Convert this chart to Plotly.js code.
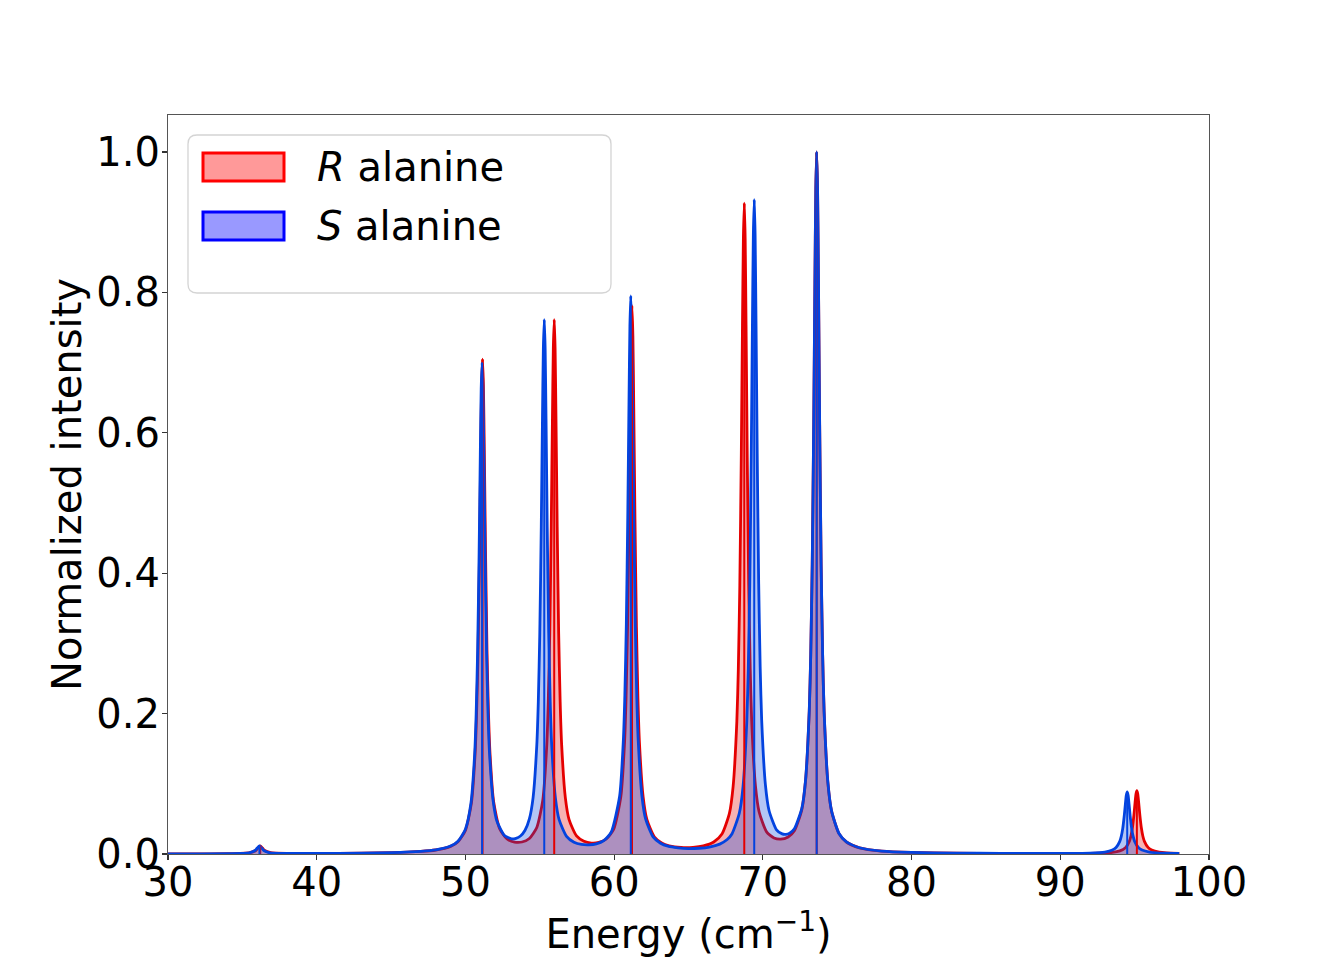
<!DOCTYPE html>
<html>
<head>
<meta charset="utf-8">
<script src="https://cdn.plot.ly/plotly-3.0.1.min.js"></script>
<style>html,body{margin:0;padding:0;background:#fff;}#chart{width:1344px;height:960px;}</style>
</head>
<body>
<div id="chart"></div>
<script>
// ---- Data ----
const energyR = [30,34,35.5,35.9,36.05,36.2,36.35,36.5,36.9,38,40,43,45,47,48,49,49.5,50,50.4,50.65,50.75,50.85,50.95,51.03,51.09,51.15,51.21,51.27,51.35,51.45,51.55,51.65,51.9,52.3,52.8,53.3,53.8,54.3,54.8,55.2,55.47,55.57,55.67,55.77,55.85,55.91,55.97,56.03,56.09,56.17,56.27,56.37,56.47,56.72,56.97,57.47,57.97,58.47,58.97,59.47,59.97,60.45,60.7,60.8,60.9,61.0,61.08,61.14,61.2,61.26,61.32,61.4,61.5,61.6,61.7,61.95,62.2,62.7,63.2,63.7,64.5,65.3,66.0,66.7,67.25,67.75,68.0,68.25,68.35,68.45,68.55,68.63,68.69,68.75,68.81,68.87,68.95,69.05,69.15,69.25,69.5,69.75,70.25,70.75,71.2,71.7,72.12,72.62,72.87,73.12,73.22,73.32,73.42,73.5,73.56,73.62,73.68,73.74,73.82,73.92,74.02,74.12,74.37,74.62,75.12,75.62,76.5,78,80,83,86,89,91,92.5,93.5,94.0,94.4,94.65,94.75,94.85,94.95,95.03,95.09,95.15,95.21,95.27,95.35,95.45,95.55,95.65,95.9,96.15,96.65,97.15,98];
const intensityR = [0.0003,0.0005,0.002,0.005,0.0086,0.0115,0.0086,0.005,0.002,0.0008,0.0008,0.0013,0.0019,0.0036,0.0057,0.0109,0.0176,0.0337,0.0724,0.1428,0.1997,0.290,0.431,0.5735,0.667,0.705,0.668,0.574,0.432,0.291,0.201,0.144,0.074,0.0361,0.0214,0.017,0.0171,0.0221,0.0378,0.0764,0.1555,0.217,0.314,0.466,0.619,0.720,0.761,0.720,0.619,0.466,0.314,0.217,0.1555,0.080,0.049,0.0257,0.0181,0.0156,0.0165,0.0214,0.0355,0.082,0.159,0.222,0.322,0.478,0.636,0.739,0.781,0.738,0.635,0.477,0.322,0.222,0.159,0.0813,0.0492,0.0245,0.0156,0.0117,0.0093,0.0094,0.0115,0.0171,0.0284,0.0578,0.0959,0.1886,0.263,0.382,0.567,0.754,0.876,0.927,0.877,0.754,0.567,0.383,0.264,0.189,0.0973,0.0598,0.0316,0.0228,0.0211,0.0243,0.033,0.0633,0.104,0.2034,0.284,0.413,0.612,0.814,0.9465,1.0,0.9456,0.813,0.611,0.411,0.283,0.202,0.102,0.061,0.029,0.0171,0.0088,0.0041,0.0022,0.0013,0.0008,0.0007,0.0008,0.0012,0.0024,0.0045,0.0094,0.0184,0.0257,0.0373,0.0553,0.0735,0.0855,0.0904,0.0855,0.0735,0.0553,0.0373,0.0257,0.0184,0.0094,0.0056,0.0027,0.0017,0.001];

const energyS = [30,34,35.45,35.85,36.0,36.15,36.3,36.45,36.85,38,40,43,45,47,48,49,49.5,50,50.37,50.62,50.72,50.82,50.92,51.0,51.06,51.12,51.18,51.24,51.32,51.42,51.52,51.62,51.87,52.12,52.62,53.1,53.4,53.7,54.0,54.3,54.55,54.8,54.9,55.0,55.1,55.18,55.24,55.3,55.36,55.42,55.5,55.6,55.7,55.8,56.05,56.3,56.8,57.3,57.8,58.3,58.8,59.3,59.8,60.37,60.62,60.72,60.82,60.92,61.0,61.06,61.12,61.18,61.24,61.32,61.42,61.52,61.62,61.87,62.12,62.62,63.12,63.62,64.3,65.0,65.7,66.4,67.1,67.6,67.92,68.42,68.67,68.92,69.02,69.12,69.22,69.3,69.36,69.42,69.48,69.54,69.62,69.72,69.82,69.92,70.17,70.42,70.92,71.3,71.55,71.8,72.12,72.62,72.87,73.12,73.22,73.32,73.42,73.5,73.56,73.62,73.68,73.74,73.82,73.92,74.02,74.12,74.37,74.62,75.12,75.62,76.5,78,80,83,86,89,90.5,92,93,93.5,93.75,94.0,94.1,94.2,94.3,94.38,94.44,94.5,94.56,94.62,94.7,94.8,94.9,95.0,95.25,95.5,96.0,96.5,97,98];
const intensityS = [0.0003,0.0005,0.0017,0.005,0.0086,0.0115,0.0086,0.005,0.0017,0.0008,0.0008,0.0013,0.002,0.0037,0.0058,0.0113,0.0182,0.0354,0.0722,0.142,0.1986,0.2885,0.428,0.5694,0.662,0.700,0.663,0.570,0.429,0.2895,0.1998,0.1435,0.0747,0.0466,0.0264,0.0216,0.0223,0.0256,0.0334,0.050,0.0804,0.1556,0.2166,0.3142,0.4655,0.619,0.7196,0.761,0.720,0.620,0.466,0.315,0.217,0.156,0.080,0.0489,0.0252,0.0168,0.0136,0.013,0.0144,0.019,0.031,0.0826,0.162,0.226,0.328,0.4864,0.647,0.752,0.795,0.752,0.647,0.486,0.328,0.2255,0.1614,0.0822,0.0496,0.0244,0.0154,0.0111,0.0087,0.0077,0.0082,0.0099,0.0141,0.0207,0.0285,0.0584,0.0968,0.1897,0.2648,0.3844,0.570,0.758,0.881,0.932,0.881,0.758,0.570,0.385,0.266,0.191,0.0989,0.0616,0.0345,0.0286,0.028,0.0296,0.0359,0.0651,0.1054,0.2045,0.285,0.4133,0.6126,0.8148,0.947,1.0,0.946,0.814,0.6115,0.412,0.2834,0.2026,0.1027,0.0614,0.0293,0.0173,0.0089,0.0042,0.0022,0.0013,0.0009,0.0007,0.0008,0.0013,0.0028,0.0056,0.0092,0.018,0.0251,0.0365,0.0541,0.0719,0.0836,0.0884,0.0836,0.0719,0.0541,0.0365,0.0251,0.018,0.0092,0.0056,0.0028,0.0017,0.0012,0.0008];

const stickEnergyR = [36.2, 51.15, 55.97, 61.2, 68.75, 73.62, 95.15];
const stickHeightR = [0.0115, 0.705, 0.761, 0.781, 0.927, 1.0, 0.0904];
const stickEnergyS = [36.15, 51.12, 55.3, 61.12, 69.42, 73.62, 94.5];
const stickHeightS = [0.0115, 0.700, 0.761, 0.795, 0.932, 1.0, 0.0884];

const seriesNames = ['R', 'S'];
const xTickVals = [30, 40, 50, 60, 70, 80, 90, 100];
const yTickVals = [0.0, 0.2, 0.4, 0.6, 0.8, 1.0];

// ---- Styling ----
const redLine = '#e50000', blueLine = '#0343df';
const redFill = 'rgba(229,0,0,0.3)', blueFill = 'rgba(3,67,223,0.3)';
const FONT = 'DejaVu Sans';

function sticks(xs, hs) {
  const x = [], y = [];
  xs.forEach((v, i) => { x.push(v, v, null); y.push(0, hs[i], null); });
  return {x, y};
}
const sR = sticks(stickEnergyR, stickHeightR);
const sS = sticks(stickEnergyS, stickHeightS);

const curveLine = (c) => ({color: c, width: 2.8, shape: 'spline', smoothing: 0.6});

const traces = [
  {x: energyR, y: intensityR, type: 'scatter', mode: 'lines', fill: 'tozeroy',
   fillcolor: redFill, line: curveLine(redLine), hoverinfo: 'skip', showlegend: false},
  {x: energyS, y: intensityS, type: 'scatter', mode: 'lines', fill: 'tozeroy',
   fillcolor: blueFill, line: curveLine(blueLine), hoverinfo: 'skip', showlegend: false},
  {x: sR.x, y: sR.y, type: 'scatter', mode: 'lines', connectgaps: false,
   line: {color: redLine, width: 2}, hoverinfo: 'skip', showlegend: false},
  {x: sS.x, y: sS.y, type: 'scatter', mode: 'lines', connectgaps: false,
   line: {color: blueLine, width: 2}, hoverinfo: 'skip', showlegend: false}
];

// pixel -> paper helpers for the hand-drawn legend
const W = 1344, H = 960, ML = 168, MR = 135, MT = 115, MB = 106;
const PW = W - ML - MR, PH = H - MT - MB;
const px = v => (v - ML) / PW;
const py = v => (H - MB - v) / PH;

function roundRect(x0, y0, x1, y1, r) {
  const P = (a, b) => px(a).toFixed(5) + ',' + py(b).toFixed(5);
  return 'M' + P(x0 + r, y0) + ' L' + P(x1 - r, y0) + ' Q' + P(x1, y0) + ' ' + P(x1, y0 + r) +
    ' L' + P(x1, y1 - r) + ' Q' + P(x1, y1) + ' ' + P(x1 - r, y1) +
    ' L' + P(x0 + r, y1) + ' Q' + P(x0, y1) + ' ' + P(x0, y1 - r) +
    ' L' + P(x0, y0 + r) + ' Q' + P(x0, y0) + ' ' + P(x0 + r, y0) + ' Z';
}

const shapes = [
  {type: 'path', xref: 'paper', yref: 'paper', path: roundRect(188, 135, 611, 293, 9),
   line: {color: '#d4d4d4', width: 1.3}, fillcolor: 'rgba(255,255,255,0.8)', layer: 'above'},
  {type: 'rect', xref: 'paper', yref: 'paper', x0: px(203), x1: px(284), y0: py(153), y1: py(181),
   line: {color: '#ff0000', width: 3}, fillcolor: 'rgba(255,0,0,0.4)', layer: 'above'},
  {type: 'rect', xref: 'paper', yref: 'paper', x0: px(203), x1: px(284), y0: py(212), y1: py(240),
   line: {color: '#0000ff', width: 3}, fillcolor: 'rgba(0,0,255,0.4)', layer: 'above'}
];

const annotations = [
  {xref: 'paper', yref: 'paper', x: px(315), y: py(167), xanchor: 'left', yanchor: 'middle',
   text: '<i>' + seriesNames[0] + '</i> alanine', showarrow: false, font: {family: FONT, size: 40, color: '#000'}},
  {xref: 'paper', yref: 'paper', x: px(315), y: py(226), xanchor: 'left', yanchor: 'middle',
   text: '<i>' + seriesNames[1] + '</i> alanine', showarrow: false, font: {family: FONT, size: 40, color: '#000'}}
];

const axisCommon = {
  showgrid: false, zeroline: false, showline: true, mirror: true,
  linecolor: '#555', linewidth: 1.1, ticks: 'outside', ticklen: 5, tickwidth: 1.1, tickcolor: '#333',
  tickfont: {family: FONT, size: 40, color: '#000'}
};

const layout = {
  width: W, height: H,
  margin: {l: ML, r: MR, t: MT, b: MB, pad: 0},
  paper_bgcolor: '#fff', plot_bgcolor: '#fff',
  font: {family: FONT, color: '#000'},
  showlegend: false,
  xaxis: Object.assign({}, axisCommon, {
    range: [30, 100], tickvals: xTickVals, ticktext: xTickVals.map(String),
    ticklabelstandoff: -12,
    title: {text: 'Energy (cm<sup>−1</sup>)', font: {family: FONT, size: 40, color: '#000'}, standoff: 11}
  }),
  yaxis: Object.assign({}, axisCommon, {
    range: [0, 1.0527], tickvals: yTickVals, ticktext: yTickVals.map(v => v.toFixed(1)),
    ticklabelstandoff: -6,
    title: {text: 'Normalized intensity', font: {family: FONT, size: 40, color: '#000'}, standoff: 2}
  }),
  shapes: shapes,
  annotations: annotations
};

Plotly.newPlot('chart', traces, layout, {displayModeBar: false, staticPlot: true});
</script>
</body>
</html>
